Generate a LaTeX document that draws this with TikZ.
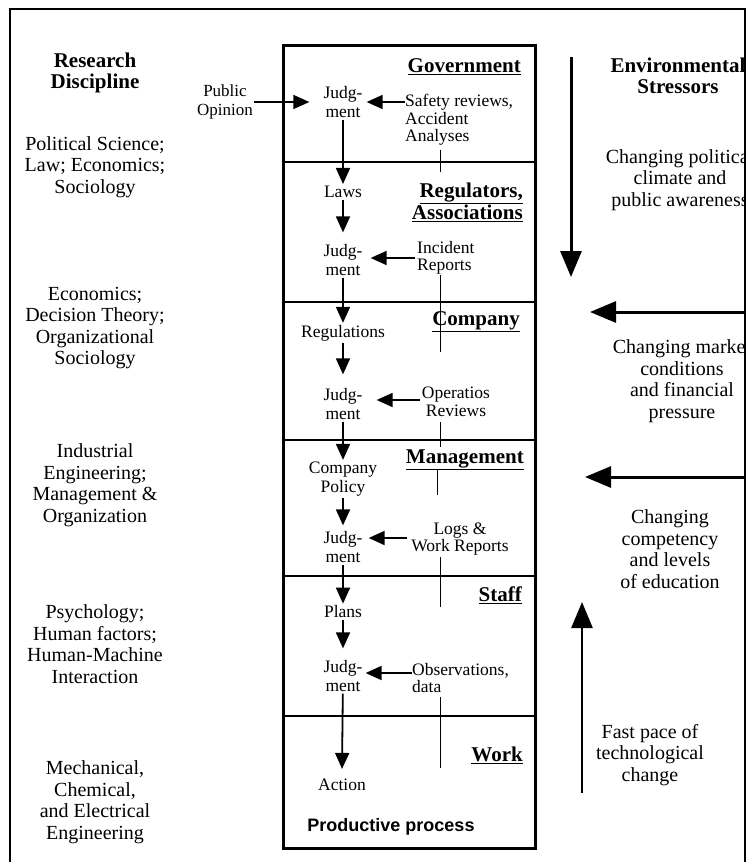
\documentclass[tikz,border=0pt]{standalone}
\usepackage{fontspec}
\setmainfont{Liberation Serif}
\newfontfamily\sansfont{Liberation Sans}
\usetikzlibrary{arrows.meta}

\tikzset{
  side/.style={font=\fontsize{20}{21.5}\selectfont, align=center, inner sep=0pt},
  sidehead/.style={font=\fontsize{21}{21.5}\selectfont\bfseries, align=center, inner sep=0pt},
  lvl/.style={font=\fontsize{21}{19}\selectfont\bfseries, align=right, anchor=east, inner sep=0pt},
  flow/.style={font=\fontsize{17.5}{18.5}\selectfont, align=center, inner sep=2pt},
  info/.style={font=\fontsize{17.5}{17.5}\selectfont, inner sep=0pt},
  arr/.style={line width=1.8pt, -{Triangle[length=16pt,width=14pt]}},
  bigarr/.style={line width=3pt, -{Triangle[length=26pt,width=21pt]}},
  tick/.style={line width=1pt},
  divider/.style={line width=1.2pt},
}

\begin{document}
\begin{tikzpicture}[x=1pt,y=-1pt]
\useasboundingbox (0,0) rectangle (747,862);

% outer frame (open at the bottom)
\draw[line width=1.5pt] (10,880) -- (10,9) -- (745,9) -- (745,880);

% ---------------- left column: research disciplines
\node[sidehead] (rd) at (95,73) {Research\\Discipline};
\node[side] (d1) at (95,167) {Political Science;\\Law; Economics;\\Sociology};
\node[side] (d2) at (95,328) {Economics;\\Decision Theory;\\Organizational\\Sociology};
\node[side] (d3) at (95,485) {Industrial\\Engineering;\\Management \&\\Organization};
\node[side] (d4) at (95,644) {Psychology;\\Human factors;\\Human-Machine\\Interaction};
\node[side] (d5) at (95,802) {Mechanical,\\Chemical,\\and Electrical\\Engineering};

% ---------------- central column: the control hierarchy
\draw[line width=3pt] (283,45) rectangle (535,848);
\foreach \yy in {162,302,440,576,716}
  \draw[divider] (283,\yy) -- (535,\yy);

% level names
\node[lvl] (gov) at (521,67) {\underline{Government}};
\node[lvl] (reg) at (523,202) {\underline{Regulators,}\\\underline{Associations}};
\node[lvl] (com) at (520,322) {\underline{Company}};
\node[lvl] (man) at (524,460) {\underline{Management}};
\node[lvl] (sta) at (522,595) {\underline{Staff}};
\node[lvl] (wor) at (523,755) {\underline{Work}};

% downward flow of decisions
\node[flow] (j1) at (343,102) {Judg-\\ment};
\node[flow] (laws) at (343,192) {Laws};
\node[flow] (j2) at (343,260) {Judg-\\ment};
\node[flow] (regs) at (343,333) {Regulations};
\node[flow] (j3) at (343,404) {Judg-\\ment};
\node[flow] (cpol) at (343,479) {Company\\Policy};
\node[flow] (j4) at (343,547) {Judg-\\ment};
\node[flow] (plans) at (343,612) {Plans};
\node[flow] (j5) at (343,676) {Judg-\\ment};
\node[flow] (act) at (342,785) {Action};

\draw[arr] (j1) -- (laws);
\draw[arr] (laws) -- ([yshift=10pt]j2.north);
\draw[arr] (j2) -- (regs);
\draw[arr] (regs) -- ([yshift=12pt]j3.north);
\draw[arr] (j3) -- (cpol);
\draw[arr] (cpol) -- ([yshift=4pt]j4.north);
\draw[arr] (j4) -- (plans);
\draw[arr] (plans) -- ([yshift=10pt]j5.north);
\draw[arr] (j5) -- ([yshift=8pt]act.north);

% feedback information
\node[info, align=left, anchor=west] (saf) at (405,120) {Safety reviews,\\Accident\\Analyses};
\node[info, align=left, anchor=west] (inc) at (417,258) {Incident\\Reports};
\node[info, align=center] (ops) at (456,402) {Operatios\\Reviews};
\node[info, align=center] (logs) at (460,539) {Logs \&\\Work Reports};
\node[info, align=left, anchor=west] (obs) at (412,678) {Observations,\\data};

\draw[arr] (saf.west |- j1) -- ([xshift=2pt]j1.east);
\draw[arr] ([xshift=-2pt]inc.west |- 0,258) -- ([xshift=6pt]j2.east |- 0,258);
\draw[arr] ([xshift=-2pt]ops.west |- 0,400) -- ([xshift=12pt]j3.east |- 0,400);
\draw[arr] ([xshift=-4pt]logs.west |- 0,538) -- ([xshift=4pt]j4.east |- 0,538);
\draw[arr] (obs.west |- 0,673) -- ([xshift=1pt]j5.east |- 0,673);

% information channels running up the hierarchy
\coordinate (t1a) at (440,150); \coordinate (t1b) at (440,172);
\coordinate (t2a) at (440,275); \coordinate (t2b) at (440,352);
\coordinate (t3a) at (440,422); \coordinate (t3b) at (440,447);
\coordinate (t4a) at (437,470); \coordinate (t4b) at (437,495);
\coordinate (t5a) at (440,557); \coordinate (t5b) at (440,607);
\coordinate (t6a) at (440,697); \coordinate (t6b) at (440,768);
\draw[tick] (t1a) -- (t1b);
\draw[tick] (t2a) -- (t2b);
\draw[tick] (t3a) -- (t3b);
\draw[tick] (t4a) -- (t4b);
\draw[tick] (t5a) -- (t5b);
\draw[tick] (t6a) -- (t6b);

% public opinion input
\node[info, align=center, font=\fontsize{17}{19}\selectfont] (pub) at (225,102) {Public\\Opinion};
\draw[line width=1.5pt, -{Triangle[length=16pt,width=14pt]}] ([xshift=1pt]pub.east) -- ([xshift=-12pt]j1.west);

\node[font=\sansfont\bfseries\fontsize{18}{20}\selectfont, inner sep=0pt] (pp) at (391,827) {Productive process};

% ---------------- right column: environmental stressors
\begin{scope}
\clip (10,9) rectangle (745,880);
\node[sidehead] (es) at (678,76) {Environmental\\Stressors};
\node[side] (s1) at (680,180) {Changing political\\climate and\\public awareness};
\node[side] (s2) at (682,381) {Changing market\\conditions\\and financial\\pressure};
\node[side] (s3) at (670,549) {Changing\\competency\\and levels\\of education};
\node[side] (s4) at (650,755) {Fast pace of\\technological\\change};
\end{scope}

\coordinate (a1) at (571,57);  \coordinate (a2) at (571,277);
\coordinate (b1) at (745,312); \coordinate (b2) at (590,312);
\coordinate (c1) at (745,477); \coordinate (c2) at (585,477);
\coordinate (e1) at (582,793); \coordinate (e2) at (582,602);
\draw[bigarr] (a1) -- (a2);
\draw[bigarr] (b1) -- (b2);
\draw[bigarr] (c1) -- (c2);
\draw[bigarr, line width=2.5pt] (e1) -- (e2);

\end{tikzpicture}
\end{document}
